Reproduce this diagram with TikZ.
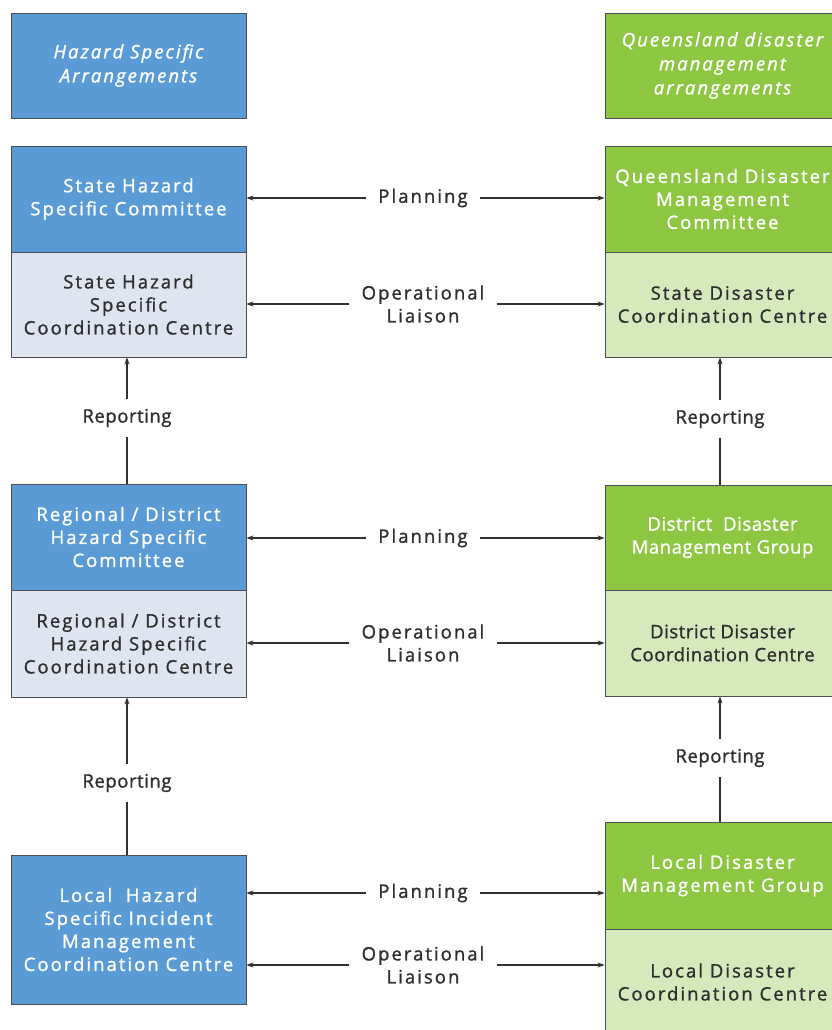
\documentclass[tikz,border=0pt]{standalone}
\usepackage{fontspec}
\setmainfont[LetterSpace=11, FakeBold=1.2]{Open Sans}
\newfontfamily\tightfont[LetterSpace=3, FakeBold=1.2]{Open Sans}
\usetikzlibrary{arrows.meta}
\definecolor{hblue}{HTML}{5B9BD5}
\definecolor{hbluelt}{HTML}{DEE4F0}
\definecolor{qgreen}{HTML}{8DC641}
\definecolor{qgreenlt}{HTML}{D5E9BC}
\definecolor{edgecol}{HTML}{4A4F55}
\definecolor{txt}{HTML}{2E2E2E}
\definecolor{linecol}{HTML}{303030}
\tikzset{
  box/.style={draw=edgecol, line width=0.8pt, minimum width=235pt, inner sep=0pt, align=center,
              font=\fontsize{18.5}{23}\selectfont},
  bluehdr/.style={box, fill=hblue, text=white, minimum height=105pt, font=\fontsize{18.5}{24}\selectfont\itshape},
  greenhdr/.style={box, fill=qgreen, text=white, minimum height=105pt, font=\fontsize{18.5}{24}\selectfont\itshape},
  bluebox/.style={box, fill=hblue, text=white},
  bluelt/.style={box, fill=hbluelt, text=txt},
  greenbox/.style={box, fill=qgreen, text=white},
  greenlt/.style={box, fill=qgreenlt, text=txt},
  tightbox/.style={font=\fontsize{18.5}{23}\tightfont},
  lbl/.style={font=\fontsize{18.5}{23}\selectfont, text=txt, inner xsep=12pt, inner ysep=10pt, align=center},
  replbl/.style={lbl, font=\fontsize{18.5}{23}\tightfont},
  link/.style={draw=linecol, line width=1.1pt},
  arr/.style={link, -{Stealth[length=7pt,width=5pt]}},
}
\begin{document}
\begin{tikzpicture}[x=1pt,y=-1pt]
\useasboundingbox (0,0) rectangle (831,1030);
\fill[white] (0,0) rectangle (831,1030);
% left column
\node[bluehdr] (lhdr) at (128.5,65.5) {Hazard Specific\\Arrangements};
\node[bluebox, minimum height=106pt] (shc) at (128.5,199) {State Hazard\\Specific Committee};
\node[bluelt, minimum height=105pt] (shcc) at (128.5,304.5) {State Hazard\\Specific\\Coordination Centre};
\node[bluebox, minimum height=106pt] (rhc) at (128.5,537) {Regional / District\\Hazard Specific\\Committee};
\node[bluelt, minimum height=107pt] (rhcc) at (128.5,643.5) {Regional / District\\Hazard Specific\\Coordination Centre};
\node[bluebox, minimum height=149pt] (lhc) at (128.5,929.5) {Local\ \ Hazard\\Specific Incident\\Management\\Coordination Centre};
% right column
\node[greenhdr] (rhdr) at (722.5,65.5) {Queensland disaster\\management\\arrangements};
\node[greenbox, minimum height=106pt] (qdmc) at (722.5,199) {Queensland Disaster\\Management\\Committee};
\node[greenlt, minimum height=105pt] (sdcc) at (722.5,304.5) {State Disaster\\Coordination Centre};
\node[greenbox, tightbox, minimum height=105pt] (ddmg) at (722.5,537.5) {District\ \ Disaster\\Management Group};
\node[greenlt, tightbox, minimum height=106pt] (ddcc) at (722.5,643) {District Disaster\\Coordination Centre};
\node[greenbox, minimum height=107pt] (ldmg) at (722.5,875.5) {Local Disaster\\Management Group};
\node[greenlt, minimum height=106pt] (ldcc) at (722.5,982) {Local Disaster\\Coordination Centre};
% horizontal labels
\node[lbl] (p1) at (423,198) {Planning};
\node[lbl] (o1) at (423,304) {Operational\\Liaison};
\node[lbl] (p2) at (423,538) {Planning};
\node[lbl] (o2) at (423,643) {Operational\\Liaison};
\node[lbl] (p3) at (423,893) {Planning};
\node[lbl] (o3) at (423,965) {Operational\\Liaison};
\foreach \l/\a/\b in {p1/shc/qdmc, o1/shcc/sdcc, p2/rhc/ddmg, o2/rhcc/ddcc, p3/lhc/ldmg, o3/lhc/ldcc}{
  \draw[arr] (\l.west) -- (\l.west -| \a.east);
  \draw[arr] (\l.east) -- (\l.east -| \b.west);
}
% vertical reporting
\node[replbl] (r1) at (127,418) {Reporting};
\draw[arr] (r1.north) -- (r1.north |- shcc.south);
\draw[link] (r1.south) -- (r1.south |- rhc.north);
\node[replbl] (r2) at (127,783) {Reporting};
\draw[arr] (r2.north) -- (r2.north |- rhcc.south);
\draw[link] (r2.south) -- (r2.south |- lhc.north);
\node[replbl] (r3) at (720,419) {Reporting};
\draw[arr] (r3.north) -- (r3.north |- sdcc.south);
\draw[link] (r3.south) -- (r3.south |- ddmg.north);
\node[replbl] (r4) at (720,758) {Reporting};
\draw[arr] (r4.north) -- (r4.north |- ddcc.south);
\draw[link] (r4.south) -- (r4.south |- ldmg.north);
\end{tikzpicture}
\end{document}
